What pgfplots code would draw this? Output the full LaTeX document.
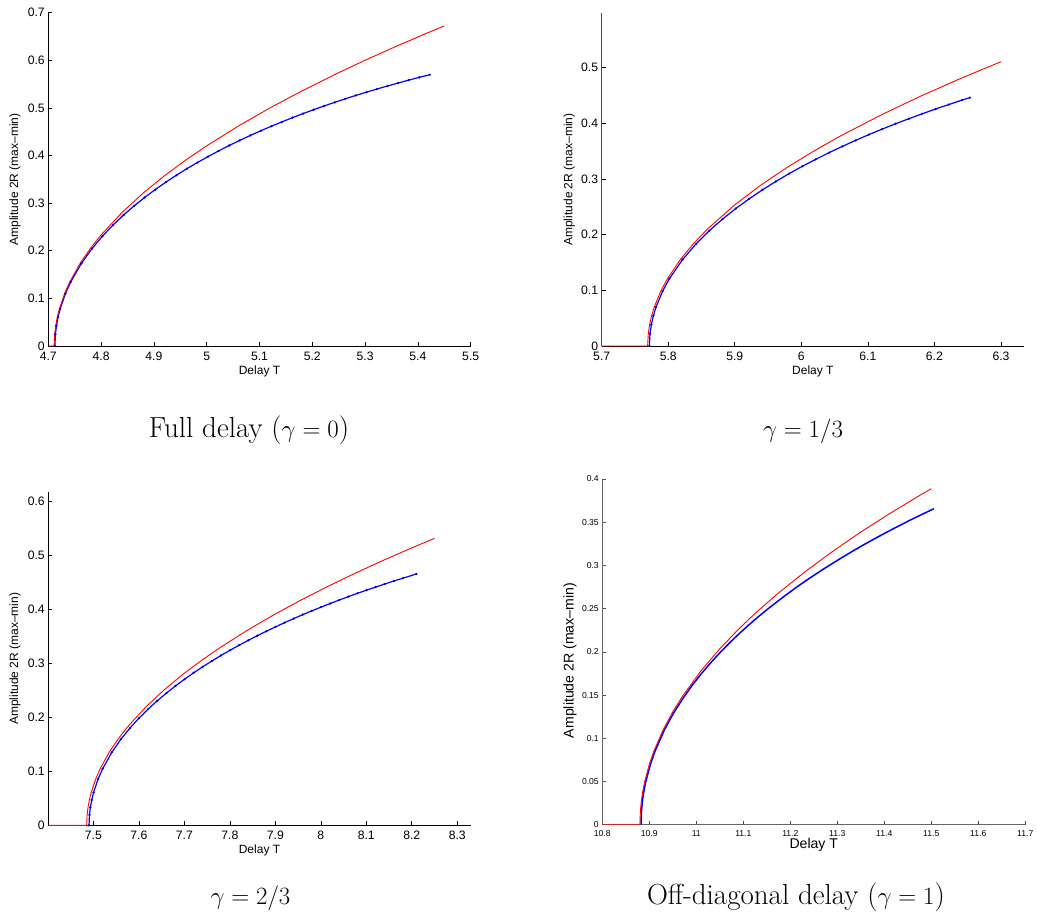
\documentclass[border=0pt]{standalone}
\usepackage{fontspec}
\usepackage{pgfplots}
\pgfplotsset{compat=1.18}
\newfontfamily\hel{Liberation Sans}

\pgfplotsset{
  panel/.style={
    scale only axis,
    axis x line*=bottom, axis y line*=left,
    tick align=inside, major tick length=4pt,
    /pgf/number format/assume math mode=true,
    tick label style={font=\hel\fontsize{12.2}{14}\selectfont, black},
    xticklabel style={yshift=-2.5pt},
    label style={font=\hel\fontsize{12}{14}\selectfont},
    axis line style={black, line width=0.8pt},
    every tick/.style={black, line width=0.6pt},
    xlabel={Delay T}, ylabel={Amplitude 2R (max–min)},
    ymin=0, clip=true,
  },
  redline/.style={draw={rgb,255:red,255;green,0;blue,0}, line width=0.9pt, mark=none},
  blueline/.style={draw={rgb,255:red,0;green,0;blue,255}, line width=1.2pt, mark=*, mark size=1.0pt,
     mark options={fill={rgb,255:red,0;green,0;blue,200}, draw={rgb,255:red,0;green,0;blue,200}, line width=0.3pt}},
}

\begin{document}
\begin{tikzpicture}[x=1pt,y=1pt]
\path[use as bounding box] (0,0) rectangle (1037,-924);

% ---------- Panel 1 ----------
\begin{axis}[panel, at={(48.3pt,-346pt)}, anchor=south west,
  width=422.4pt, height=333.3pt,
  xmin=4.7, xmax=5.5, ymax=0.7,
  xtick={4.7,4.8,4.9,5,5.1,5.2,5.3,5.4,5.5},
  ytick={0,0.1,0.2,0.3,0.4,0.5,0.6,0.7},
  ylabel style={at={(axis description cs:-0.0788,0.5)}, anchor=center},
  xlabel style={at={(axis description cs:0.5,-0.075)}, anchor=center}]
\addplot[blueline] coordinates {(4.7125,0)(4.7135,0.0247)(4.7155,0.0428)(4.7185,0.0605)(4.7225,0.0781)(4.7325,0.1102)(4.7425,0.1347)(4.7625,0.1732)(4.7825,0.2042)(4.8025,0.2306)(4.8225,0.2540)(4.8425,0.2750)(4.8625,0.2942)(4.8825,0.3120)(4.9025,0.3285)(4.9225,0.3440)(4.9425,0.3586)(4.9625,0.3724)(4.9825,0.3854)(5.0025,0.3978)(5.0225,0.4097)(5.0425,0.4210)(5.0625,0.4318)(5.0825,0.4422)(5.1025,0.4521)(5.1225,0.4616)(5.1425,0.4707)(5.1625,0.4796)(5.1825,0.4881)(5.2025,0.4963)(5.2225,0.5042)(5.2425,0.5118)(5.2625,0.5192)(5.2825,0.5263)(5.3025,0.5331)(5.3225,0.5397)(5.3425,0.5461)(5.3625,0.5523)(5.3825,0.5584)(5.4025,0.5642)(5.4225,0.5698)};
\addplot[redline] coordinates {(4.7,0)(4.711,0)(4.712,0.0247)(4.714,0.0429)(4.717,0.0606)(4.721,0.0782)(4.731,0.1106)(4.741,0.1354)(4.761,0.1749)(4.781,0.2069)(4.801,0.2346)(4.841,0.2820)(4.881,0.3224)(4.921,0.3584)(4.961,0.3910)(5.001,0.4211)(5.061,0.4626)(5.121,0.5007)(5.181,0.5361)(5.241,0.5693)(5.301,0.6007)(5.361,0.6304)(5.421,0.6589)(5.45,0.6723)};
\end{axis}

% ---------- Panel 2 ----------
\begin{axis}[panel, at={(601.7pt,-346pt)}, anchor=south west,
  width=422.3pt, height=332.7pt,
  xmin=5.7, xmax=6.3346, ymax=0.597,
  xtick={5.7,5.8,5.9,6,6.1,6.2,6.3},
  ytick={0,0.1,0.2,0.3,0.4,0.5},
  y axis line style={draw=black!70},
  ylabel style={at={(axis description cs:-0.0767,0.5)}, anchor=center},
  xlabel style={at={(axis description cs:0.5,-0.075)}, anchor=center}]
\addplot[blueline] coordinates {(5.7716,0)(5.7726,0.0221)(5.7746,0.0383)(5.7776,0.0542)(5.7816,0.0699)(5.7916,0.0986)(5.8016,0.1206)(5.8216,0.1552)(5.8416,0.1830)(5.8616,0.2068)(5.8816,0.2278)(5.9016,0.2468)(5.9216,0.2641)(5.9416,0.2802)(5.9616,0.2952)(5.9816,0.3093)(6.0016,0.3225)(6.0216,0.3350)(6.0416,0.3469)(6.0616,0.3582)(6.0816,0.3690)(6.1016,0.3794)(6.1216,0.3893)(6.1416,0.3988)(6.1616,0.4079)(6.1816,0.4167)(6.2016,0.4252)(6.2216,0.4333)(6.2416,0.4413)(6.2533,0.4457)};
\addplot[redline] coordinates {(5.7,0)(5.769,0)(5.770,0.0221)(5.772,0.0384)(5.775,0.0543)(5.779,0.0700)(5.789,0.0990)(5.799,0.1212)(5.819,0.1565)(5.839,0.1852)(5.859,0.2100)(5.899,0.2524)(5.939,0.2886)(5.979,0.3208)(6.019,0.3500)(6.059,0.3770)(6.119,0.4141)(6.179,0.4482)(6.239,0.4799)(6.300,0.5101)};
\end{axis}

% ---------- Panel 3 ----------
\begin{axis}[panel, at={(48.3pt,-825.3pt)}, anchor=south west,
  width=422.4pt, height=333pt,
  xmin=7.401, xmax=8.3295, ymax=0.616,
  xtick={7.5,7.6,7.7,7.8,7.9,8,8.1,8.2,8.3},
  ytick={0,0.1,0.2,0.3,0.4,0.5,0.6},
  ylabel style={at={(axis description cs:-0.0788,0.5)}, anchor=center},
  xlabel style={at={(axis description cs:0.5,-0.074)}, anchor=center}]
\addplot[blueline] coordinates {(7.4905,0)(7.4915,0.0192)(7.4935,0.0333)(7.4965,0.0470)(7.5005,0.0606)(7.5105,0.0856)(7.5205,0.1047)(7.5405,0.1348)(7.5605,0.1591)(7.5805,0.1799)(7.6005,0.1984)(7.6205,0.2150)(7.6405,0.2303)(7.6605,0.2445)(7.6805,0.2578)(7.7005,0.2703)(7.7205,0.2821)(7.7405,0.2933)(7.7605,0.3039)(7.7805,0.3141)(7.8005,0.3238)(7.8205,0.3332)(7.8405,0.3421)(7.8605,0.3508)(7.8805,0.3591)(7.9005,0.3671)(7.9205,0.3749)(7.9405,0.3824)(7.9605,0.3898)(7.9805,0.3968)(8.0005,0.4036)(8.0205,0.4102)(8.0405,0.4167)(8.0605,0.4230)(8.0805,0.4291)(8.1005,0.4350)(8.1205,0.4407)(8.1405,0.4464)(8.1605,0.4519)(8.1805,0.4572)(8.21,0.4648)};
\addplot[redline] coordinates {(7.401,0)(7.4853,0)(7.4863,0.0192)(7.4883,0.0333)(7.4913,0.0470)(7.4953,0.0607)(7.5053,0.0858)(7.5153,0.1051)(7.5353,0.1357)(7.5553,0.1606)(7.5753,0.1821)(7.6153,0.2189)(7.6553,0.2503)(7.6953,0.2782)(7.7353,0.3035)(7.7753,0.3269)(7.8353,0.3591)(7.8953,0.3887)(7.9553,0.4162)(8.0153,0.4419)(8.0753,0.4662)(8.1353,0.4894)(8.1953,0.5115)(8.25,0.5308)};
\end{axis}

% ---------- Panel 4 ----------
\begin{axis}[panel, at={(602.3pt,-824.7pt)}, anchor=south west,
  width=423pt, height=345.7pt,
  xmin=10.8, xmax=11.7, ymax=0.4,
  xtick={10.8,10.9,11,11.1,11.2,11.3,11.4,11.5,11.6,11.7},
  ytick={0,0.05,0.1,0.15,0.2,0.25,0.3,0.35,0.4},
  tick label style={font=\hel\fontsize{8.6}{10}\selectfont, black},
  xticklabel style={yshift=0pt},
  label style={font=\hel\fontsize{14.1}{16}\selectfont},
  axis line style={draw=black!60, line width=1pt},
  every tick/.style={black!70, line width=0.6pt},
  yticklabel style={/pgf/number format/fixed, /pgf/number format/precision=2},
  ylabel style={at={(axis description cs:-0.0764,0.475)}, anchor=center},
  xlabel style={at={(axis description cs:0.5,-0.059)}, anchor=center}]
\addplot[draw={rgb,255:red,0;green,0;blue,255}, line width=1.5pt, mark=none] coordinates {(10.8823,0)(10.8833,0.0156)(10.8853,0.0271)(10.8883,0.0382)(10.8923,0.0493)(10.9023,0.0697)(10.9123,0.0853)(10.9323,0.1099)(10.9523,0.1298)(10.9723,0.1468)(10.9923,0.1620)(11.0123,0.1758)(11.0323,0.1884)(11.0523,0.2001)(11.0723,0.2112)(11.0923,0.2216)(11.1123,0.2314)(11.1323,0.2408)(11.1523,0.2497)(11.1723,0.2582)(11.1923,0.2664)(11.2123,0.2744)(11.2323,0.2820)(11.2523,0.2893)(11.2723,0.2964)(11.2923,0.3032)(11.3123,0.3099)(11.3323,0.3164)(11.3523,0.3227)(11.3723,0.3288)(11.3923,0.3347)(11.4123,0.3405)(11.4323,0.3461)(11.4523,0.3517)(11.4723,0.3570)(11.4923,0.3622)(11.5057,0.3657)};
\addplot[redline] coordinates {(10.8,0)(10.880,0)(10.881,0.0156)(10.883,0.0271)(10.886,0.0383)(10.890,0.0494)(10.900,0.0698)(10.910,0.0855)(10.930,0.1104)(10.950,0.1307)(10.970,0.1481)(11.010,0.1781)(11.050,0.2036)(11.090,0.2263)(11.130,0.2469)(11.170,0.2659)(11.230,0.2921)(11.290,0.3162)(11.350,0.3386)(11.410,0.3595)(11.470,0.3793)(11.500,0.3888)};
\end{axis}

% ---------- Captions ----------
\node[anchor=base, font=\fontsize{29}{34}\selectfont] at (249,-437) {Full delay ($\gamma = 0$)};
\node[anchor=base, font=\fontsize{29}{34}\selectfont] at (803,-437.7) {$\gamma = 1/3$};
\node[anchor=base, font=\fontsize{29}{34}\selectfont] at (250.5,-904.3) {$\gamma = 2/3$};
\node[anchor=base, font=\fontsize{29}{34}\selectfont] at (796,-904) {Off-diagonal delay ($\gamma = 1$)};
\end{tikzpicture}
\end{document}
